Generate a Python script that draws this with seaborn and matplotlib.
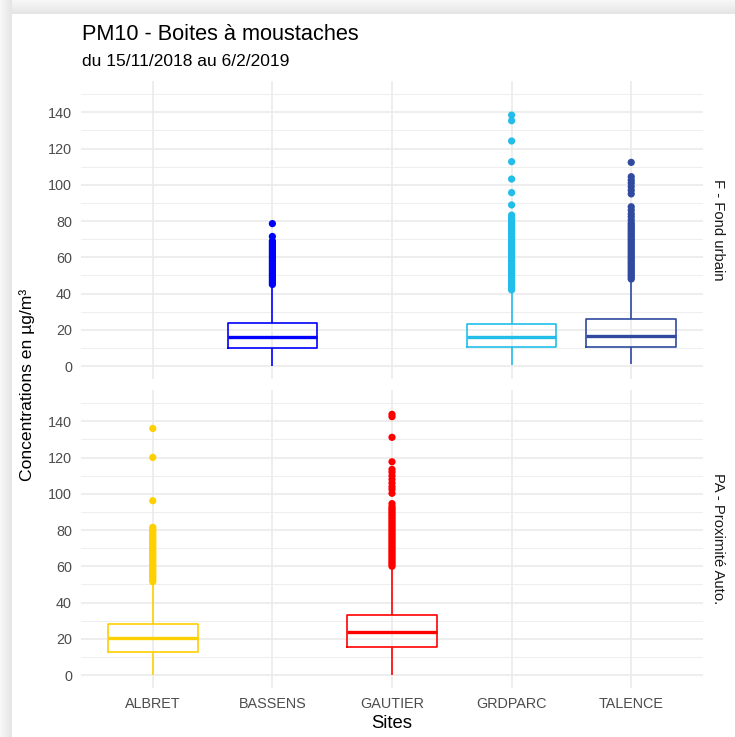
import numpy as np
import pandas as pd
import matplotlib
matplotlib.use("Agg")
import matplotlib.pyplot as plt
import seaborn as sns

# ---------------- data ----------------
sites = ["ALBRET", "BASSENS", "GAUTIER", "GRDPARC", "TALENCE"]
site_colors = ["#FFD000", "#0000FF", "#FF0000", "#23BDEA", "#2F4A9F"]
facets = ["F - Fond urbain", "PA - Proximité Auto."]
site_facet = ["PA - Proximité Auto.", "F - Fond urbain", "PA - Proximité Auto.",
              "F - Fond urbain", "F - Fond urbain"]

# five-number summaries: lower whisker, Q1, median, Q3, upper whisker
box_albret = [0.0, 12.9, 20.2, 28.0, 50.5]
box_bassens = [0.0, 9.8, 15.8, 23.9, 44.0]
box_gautier = [0.0, 15.6, 23.6, 33.1, 59.0]
box_grdparc = [0.5, 10.7, 15.8, 23.0, 40.5]
box_talence = [1.0, 10.7, 16.7, 25.9, 47.0]

# outliers
out_albret = [51.5, 52.5, 53.5, 54.5, 55.5, 56.5, 57.5, 58.5, 59.5, 60.5, 61.5,
              62.5, 63.5, 64.5, 65.5, 66.5, 67.5, 68.5, 69.5, 70.5, 71.5, 72.5,
              73.5, 74.5, 75.5, 76.5, 77.5, 78.5, 79.5, 80.5, 81.5, 96.2, 120.1,
              136.1]
out_bassens = [45.0, 46.0, 47.0, 48.0, 49.0, 50.0, 51.0, 52.0, 53.0, 54.0, 55.0,
               56.0, 57.0, 58.0, 59.0, 60.0, 61.0, 62.0, 63.0, 64.0, 65.0, 66.0,
               67.0, 68.0, 69.0, 71.5, 78.6]
out_gautier = [60.0, 61.0, 62.0, 63.0, 64.0, 65.0, 66.0, 67.0, 68.0, 69.0, 70.0,
               71.0, 72.0, 73.0, 74.0, 75.0, 76.0, 77.0, 78.0, 79.0, 80.0, 81.0,
               82.0, 83.0, 84.0, 85.0, 86.0, 87.0, 88.0, 89.0, 90.0, 91.0, 92.0,
               93.0, 94.6, 100.3, 102.5, 104.0, 106.0, 108.0, 110.0, 112.0, 113.5,
               117.7, 131.2, 142.6, 143.9]
out_grdparc = [42.0, 43.0, 44.0, 45.0, 46.0, 47.0, 48.0, 49.0, 50.0, 51.0, 52.0,
               53.0, 54.0, 55.0, 56.0, 57.0, 58.0, 59.0, 60.0, 61.0, 62.0, 63.0,
               64.0, 65.0, 66.0, 67.0, 68.0, 69.0, 70.0, 71.0, 72.0, 73.0, 74.0,
               75.0, 76.0, 77.0, 78.0, 79.0, 80.0, 81.0, 82.0, 83.3, 88.9, 95.7,
               103.2, 112.8, 124.2, 135.4, 138.5]
out_talence = [48.0, 49.0, 50.0, 51.0, 52.0, 53.0, 54.0, 55.0, 56.0, 57.0, 58.0,
               59.0, 60.0, 61.0, 62.0, 63.0, 64.0, 65.0, 66.0, 67.0, 68.0, 69.0,
               70.0, 71.0, 72.0, 73.0, 74.0, 75.0, 76.0, 77.0, 78.0, 79.0, 80.6,
               82.4, 84.0, 86.0, 87.9, 95.0, 97.0, 99.0, 101.0, 102.6, 104.5, 112.4]

boxes = [box_albret, box_bassens, box_gautier, box_grdparc, box_talence]
outs = [out_albret, out_bassens, out_gautier, out_grdparc, out_talence]

box_df = pd.DataFrame([(s, f, v) for s, f, b in zip(sites, site_facet, boxes) for v in b],
                      columns=["site", "facet", "value"])
out_df = pd.DataFrame([(s, f, v) for s, f, o in zip(sites, site_facet, outs) for v in o],
                      columns=["site", "facet", "value"])
palette = dict(zip(sites, site_colors))

# ---------------- style ----------------
sns.set_theme(style="white")
plt.rcParams["font.family"] = ["Liberation Sans", "DejaVu Sans"]

W, H = 735, 737
fig = plt.figure(figsize=(W / 100, H / 100), dpi=100)
fig.patch.set_facecolor("white")

# screenshot shadow frame
bg = fig.add_axes([0, 0, 1, 1], zorder=-10)
bg.axis("off")
g_top = np.linspace(0.97, 0.90, 14)[:, None, None] * np.ones((14, 2, 3))
bg.imshow(g_top, extent=[0, W, 14, 0], aspect="auto", interpolation="bilinear")
g_left = np.linspace(0.97, 0.90, 12)[None, :, None] * np.ones((2, 12, 3))
bg.imshow(g_left, extent=[0, 12, H, 0], aspect="auto", interpolation="bilinear")
bg.set_xlim(0, W)
bg.set_ylim(H, 0)

left = 81 / W
pw = (703 - 81) / W
ph = 298 / H
ax_top = fig.add_axes([left, 1 - 378.5 / H, pw, ph])
ax_bot = fig.add_axes([left, 1 - 687.5 / H, pw, ph])

grid_col = "#EBEBEB"
for ax, fac in zip([ax_top, ax_bot], facets):
    sub_b = box_df[box_df["facet"] == fac]
    sub_o = out_df[out_df["facet"] == fac]
    sns.boxplot(data=sub_b, x="site", y="value", hue="site", order=sites,
                hue_order=sites, palette=palette, fill=False, width=0.75,
                whis=(0, 100), showcaps=False, showfliers=False, linewidth=1.2,
                medianprops=dict(linewidth=2.4), dodge=False, legend=False, ax=ax)
    sns.stripplot(data=sub_o, x="site", y="value", hue="site", order=sites,
                  hue_order=sites, palette=palette, jitter=False, dodge=False,
                  size=5.2, linewidth=0, legend=False, ax=ax)
    ax.set_xlim(-0.6, 4.6)
    ax.set_ylim(-6.9, 157.6)
    ax.set_yticks(np.arange(0, 141, 20))
    ax.set_yticks(np.arange(10, 151, 20), minor=True)
    ax.grid(which="major", color=grid_col, linewidth=1.2)
    ax.grid(which="minor", axis="y", color=grid_col, linewidth=0.6)
    ax.set_axisbelow(True)
    for sp in ax.spines.values():
        sp.set_visible(False)
    ax.tick_params(axis="both", which="both", length=0, labelsize=10.4,
                   labelcolor="#4D4D4D", pad=6.5)
    ax.set_xlabel("")
    ax.set_ylabel("")
    ax.set_facecolor("none")

ax_top.tick_params(axis="x", labelbottom=False)

# strip labels
fig.text(718 / W, 1 - 229.5 / H, facets[0], rotation=-90, ha="center", va="center",
         fontsize=10.7, color="#1A1A1A")
fig.text(718 / W, 1 - 538.5 / H, facets[1], rotation=-90, ha="center", va="center",
         fontsize=10.7, color="#1A1A1A")

# titles
fig.text(82 / W, 1 - 39.5 / H, "PM10 - Boites à moustaches", ha="left",
         va="baseline", fontsize=15.7, color="black")
fig.text(82 / W, 1 - 66.5 / H, "du 15/11/2018 au 6/2/2019", ha="left",
         va="baseline", fontsize=12.5, color="black")
fig.text(392 / W, 1 - 728.3 / H, "Sites", ha="center", va="baseline",
         fontsize=13.3, color="black")
fig.text(27 / W, 1 - 384.5 / H, "Concentrations en µg/m³", ha="center", va="center",
         rotation=90, fontsize=12.6, color="black")

fig.savefig("out.png", dpi=100, facecolor="white")
